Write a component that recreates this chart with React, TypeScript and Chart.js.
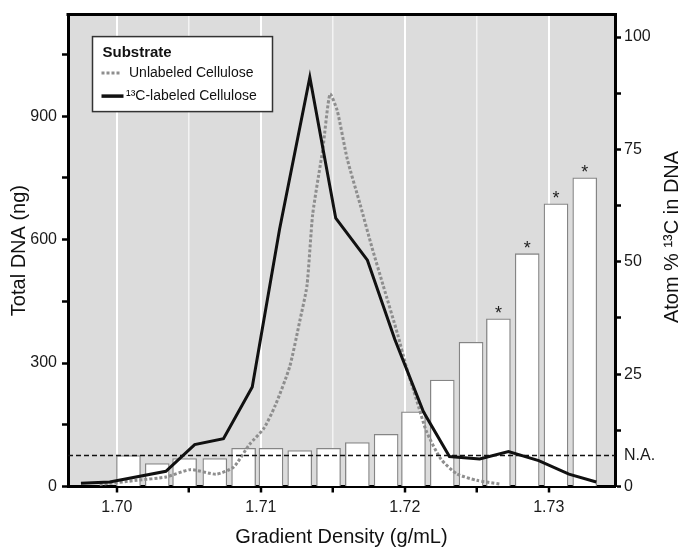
import React, { useEffect, useRef } from 'react';
import { Chart, registerables } from 'chart.js';

Chart.register(...registerables);

const FONT = '"Liberation Sans", Arial, Helvetica, sans-serif';

// Bars: atom % 13C in DNA for each gradient fraction (right axis)
const barDensity = [1.7008, 1.7028, 1.7047, 1.7068, 1.7088, 1.7107, 1.7127, 1.7147, 1.7167, 1.7187, 1.7206, 1.7226, 1.7246, 1.7265, 1.7285, 1.7305, 1.7325];
const atomPercent13C = [6.9, 5.1, 6.2, 6.2, 8.5, 8.5, 8.0, 8.5, 9.8, 11.6, 16.6, 23.7, 32.1, 37.3, 51.8, 62.9, 68.7];
const significant = [false, false, false, false, false, false, false, false, false, false, false, false, false, true, true, true, true];

// 13C-labeled cellulose: total DNA (ng)
const labeledDensity = [1.6975, 1.6995, 1.7034, 1.7054, 1.7074, 1.7094, 1.7113, 1.7134, 1.7152, 1.7174, 1.7193, 1.7213, 1.7231, 1.7252, 1.7272, 1.7293, 1.7314, 1.7333];
const labeledDNA = [8, 11, 37, 102, 116, 242, 626, 995, 652, 550, 358, 181, 73, 67, 85, 63, 30, 11];

// Unlabeled cellulose: total DNA (ng)
const unlabeledDensity = [1.6988, 1.7014, 1.7034, 1.7051, 1.7069, 1.7081, 1.7092, 1.7102, 1.7110, 1.7120, 1.7127, 1.7132, 1.7136, 1.7143, 1.7148, 1.7153, 1.7160, 1.7169, 1.7177, 1.7185, 1.7195, 1.7201, 1.7208, 1.7215, 1.7225, 1.7236, 1.7250, 1.7266];
const unlabeledDNA = [5, 15, 23, 41, 30, 47, 102, 141, 197, 291, 402, 488, 662, 820, 954, 914, 796, 685, 583, 488, 370, 291, 212, 134, 67, 31, 15, 6];

const naturalAbundance = 6.9;
const naLabel = 'N.A.';

const xMin = 1.6966;
const xMax = 1.7346;
const xTicks = [1.7, 1.705, 1.71, 1.715, 1.72, 1.725, 1.73];
const xTickLabels = ['1.70', '', '1.71', '', '1.72', '', '1.73'];
const dnaMax = 1147;
const dnaTicks = [0, 150, 300, 450, 600, 750, 900, 1050];
const dnaTickLabels = ['0', '', '300', '', '600', '', '900', ''];
const atomMax = 105;
const atomTicks = [0, 12.5, 25, 37.5, 50, 62.5, 75, 87.5, 100];
const atomTickLabels = ['0', '', '25', '', '50', '', '75', '', '100'];

const legendTitle = 'Substrate';
const xTitle = 'Gradient Density (g/mL)';
const yTitle = 'Total DNA (ng)';
const y1Title = 'Atom % ¹³C in DNA';

const backgroundPlugin = {
  id: 'plotBackground',
  beforeDraw(chart: any) {
    const { ctx, chartArea: a } = chart;
    ctx.save();
    ctx.fillStyle = '#dcdcdc';
    ctx.fillRect(a.left, a.top, a.right - a.left, a.bottom - a.top);
    ctx.restore();
  },
};

const decorPlugin = {
  id: 'decor',
  afterDatasetsDraw(chart: any) {
    const { ctx } = chart;
    const meta = chart.getDatasetMeta(0);
    ctx.save();
    ctx.fillStyle = '#222';
    ctx.font = `18px ${FONT}`;
    ctx.textAlign = 'center';
    ctx.textBaseline = 'alphabetic';
    meta.data.forEach((el: any, i: number) => {
      if (significant[i]) ctx.fillText('*', el.x, el.y);
    });
    ctx.restore();
  },
  afterDraw(chart: any) {
    const { ctx, chartArea: a } = chart;
    ctx.save();
    // top frame line
    ctx.strokeStyle = '#000';
    ctx.lineWidth = 3;
    ctx.beginPath();
    ctx.moveTo(a.left - 1.5, a.top);
    ctx.lineTo(a.right + 1.5, a.top);
    ctx.stroke();

    // legend
    const ds = chart.data.datasets;
    const x0 = a.left + 24.5;
    const y0 = a.top + 22;
    ctx.fillStyle = '#fff';
    ctx.fillRect(x0, y0, 180, 75);
    ctx.strokeStyle = '#333';
    ctx.lineWidth = 1.5;
    ctx.strokeRect(x0, y0, 180, 75);
    ctx.fillStyle = '#111';
    ctx.textAlign = 'left';
    ctx.textBaseline = 'middle';
    ctx.font = `bold 15px ${FONT}`;
    ctx.fillText(legendTitle, x0 + 10, y0 + 16);
    ctx.font = `14px ${FONT}`;
    // unlabeled
    const un = ds[2];
    ctx.strokeStyle = un.borderColor;
    ctx.lineWidth = 3;
    ctx.setLineDash(un.borderDash);
    ctx.beginPath();
    ctx.moveTo(x0 + 9, y0 + 36.5);
    ctx.lineTo(x0 + 28, y0 + 36.5);
    ctx.stroke();
    ctx.setLineDash([]);
    ctx.fillText(un.label, x0 + 36.5, y0 + 36.5);
    // labeled
    const lb = ds[1];
    ctx.strokeStyle = lb.borderColor;
    ctx.lineWidth = 3.5;
    ctx.beginPath();
    ctx.moveTo(x0 + 9, y0 + 59.5);
    ctx.lineTo(x0 + 31, y0 + 59.5);
    ctx.stroke();
    ctx.fillText(lb.label, x0 + 33.5, y0 + 59.5);

    // right axis title (reads bottom to top)
    ctx.translate(678, 237);
    ctx.rotate(-Math.PI / 2);
    ctx.textAlign = 'center';
    ctx.textBaseline = 'alphabetic';
    ctx.font = `20px ${FONT}`;
    ctx.fillStyle = '#111';
    ctx.fillText(y1Title, 0, 0);
    ctx.restore();
  },
};

export default function App() {
  const canvasRef = useRef<HTMLCanvasElement | null>(null);

  useEffect(() => {
    const canvas = canvasRef.current;
    if (!canvas) return;
    const tickFont = { family: FONT, size: 16 };
    const chart = new Chart(canvas, {
      type: 'bar',
      data: {
        datasets: [
          {
            type: 'bar',
            label: 'Atom % 13C',
            data: barDensity.map((x, i) => ({ x, y: atomPercent13C[i] })),
            xAxisID: 'x',
            yAxisID: 'y1',
            backgroundColor: '#ffffff',
            borderColor: '#858585',
            borderWidth: 1.3,
            barThickness: 24,
            order: 3,
          } as any,
          {
            type: 'line',
            label: '¹³C-labeled Cellulose',
            data: labeledDensity.map((x, i) => ({ x, y: labeledDNA[i] })),
            xAxisID: 'x',
            yAxisID: 'y',
            borderColor: '#111111',
            borderWidth: 3,
            pointRadius: 0,
            tension: 0,
            fill: false,
            order: 1,
          },
          {
            type: 'line',
            label: 'Unlabeled Cellulose',
            data: unlabeledDensity.map((x, i) => ({ x, y: unlabeledDNA[i] })),
            xAxisID: 'x',
            yAxisID: 'y',
            borderColor: '#8e8e8e',
            borderWidth: 3,
            borderDash: [3, 2],
            pointRadius: 0,
            tension: 0.2,
            fill: false,
            order: 2,
          },
          {
            type: 'line',
            label: naLabel,
            data: [{ x: xMin, y: naturalAbundance }, { x: xMax, y: naturalAbundance }],
            xAxisID: 'x',
            yAxisID: 'y1',
            borderColor: '#111111',
            borderWidth: 1.3,
            borderDash: [5, 3],
            pointRadius: 0,
            fill: false,
            order: 0,
          },
        ],
      },
      options: {
        responsive: false,
        animation: false,
        events: [],
        layout: { padding: { top: 1.5, left: 0, right: 0, bottom: 0 } },
        plugins: {
          legend: { display: false },
          tooltip: { enabled: false },
        },
        scales: {
          x: {
            type: 'linear',
            position: 'bottom',
            min: xMin,
            max: xMax,
            offset: false,
            afterBuildTicks: (scale: any) => {
              scale.ticks = xTicks.map((v) => ({ value: v }));
            },
            afterFit: (scale: any) => {
              scale.height = 62.5;
            },
            ticks: {
              autoSkip: false,
              maxRotation: 0,
              padding: 5,
              color: '#1a1a1a',
              font: tickFont,
              callback: (_v: any, i: number) => xTickLabels[i],
            },
            grid: {
              offset: false,
              drawOnChartArea: true,
              color: (c: any) => (xTickLabels[c.index] ? '#ffffff' : '#f3f3f3'),
              lineWidth: (c: any) => (xTickLabels[c.index] ? 2 : 1.5),
              drawTicks: true,
              tickLength: 6,
              tickWidth: 2.5,
              tickColor: '#000',
            },
            border: { display: true, color: '#000', width: 3 },
            title: {
              display: true,
              text: xTitle,
              color: '#111',
              font: { family: FONT, size: 20 },
              padding: { top: 0, bottom: 0 },
            },
          },
          y: {
            type: 'linear',
            position: 'left',
            min: 0,
            max: dnaMax,
            afterBuildTicks: (scale: any) => {
              scale.ticks = dnaTicks.map((v) => ({ value: v }));
            },
            afterFit: (scale: any) => {
              scale.width = 68;
            },
            ticks: {
              autoSkip: false,
              padding: 5,
              color: '#1a1a1a',
              font: tickFont,
              callback: (_v: any, i: number) => dnaTickLabels[i],
            },
            grid: {
              drawOnChartArea: false,
              drawTicks: true,
              tickLength: 6,
              tickWidth: 2.5,
              tickColor: '#000',
            },
            border: { display: true, color: '#000', width: 3 },
            title: {
              display: true,
              text: yTitle,
              color: '#111',
              font: { family: FONT, size: 20 },
              padding: { top: 7, bottom: 0 },
            },
          },
          y1: {
            type: 'linear',
            position: 'right',
            min: 0,
            max: atomMax,
            afterBuildTicks: (scale: any) => {
              const t = atomTicks.map((v) => ({ value: v }));
              t.splice(1, 0, { value: naturalAbundance });
              scale.ticks = t;
            },
            afterFit: (scale: any) => {
              scale.width = 65;
            },
            ticks: {
              autoSkip: false,
              padding: 3,
              color: '#1a1a1a',
              font: tickFont,
              callback: (v: any) => {
                if (v === naturalAbundance) return naLabel;
                const k = atomTicks.indexOf(v);
                return k >= 0 ? atomTickLabels[k] : '';
              },
            },
            grid: {
              drawOnChartArea: false,
              drawTicks: true,
              tickLength: 6,
              tickWidth: 2.5,
              tickColor: (c: any) => (c.tick && c.tick.value === naturalAbundance ? 'rgba(0,0,0,0)' : '#000'),
            },
            border: { display: true, color: '#000', width: 3 },
          },
        },
      } as any,
      plugins: [backgroundPlugin, decorPlugin],
    });
    return () => chart.destroy();
  }, []);

  return (
    <div style={{ position: 'absolute', left: 0, top: 0, width: 680, height: 549, background: '#fff' }}>
      <canvas ref={canvasRef} width={680} height={549} style={{ display: 'block' }} />
    </div>
  );
}
